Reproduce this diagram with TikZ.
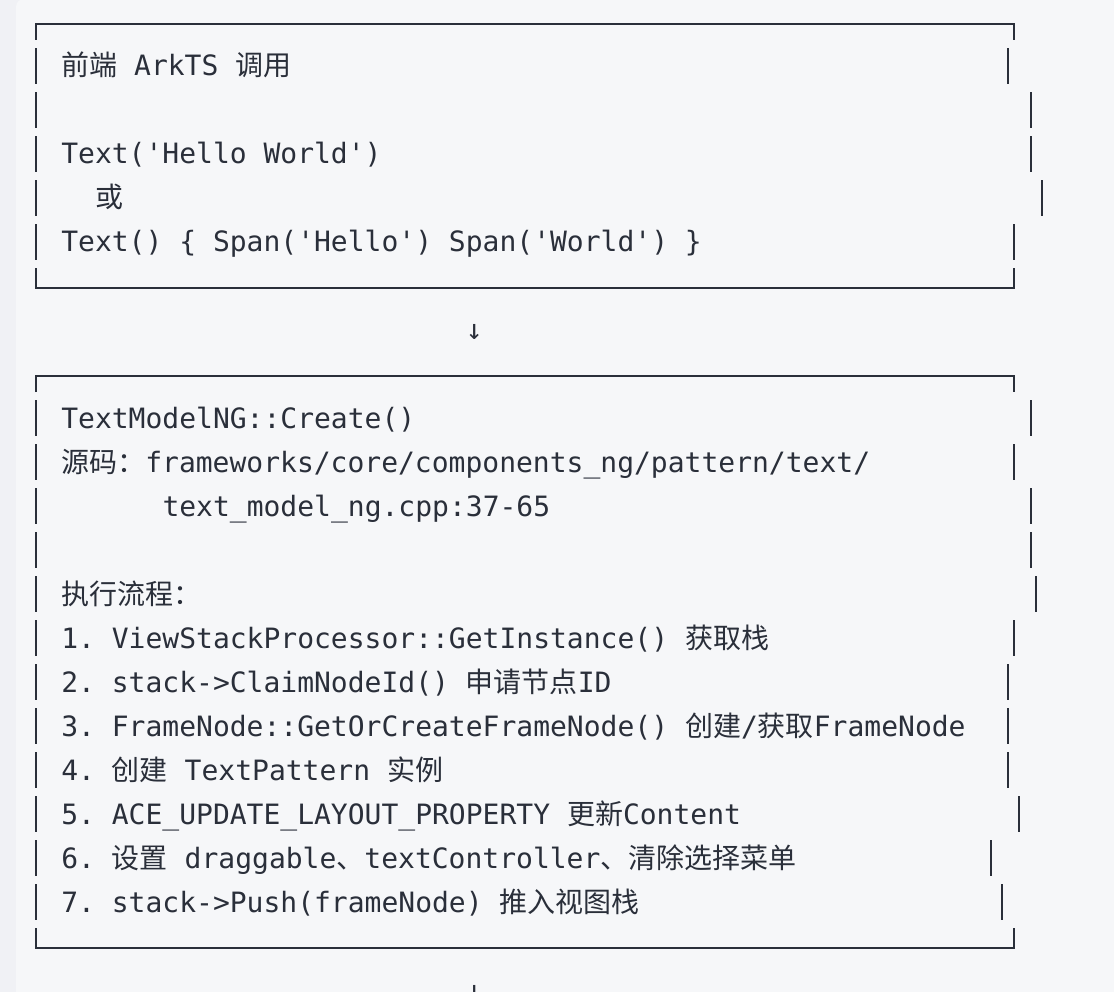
\documentclass[tikz,border=0pt]{standalone}
\usepackage{fontspec}
\newfontfamily\mono{DejaVu Sans Mono}
\newfontfamily\cjk{Noto Sans CJK SC}
\frenchspacing
\definecolor{ink}{RGB}{42,47,58}
\definecolor{outerbg}{RGB}{240,241,245}
\definecolor{panelbg}{RGB}{246,247,249}
\tikzset{
  frameline/.style={draw=ink, line width=2pt, line cap=butt, line join=miter},
  txt/.style={anchor=base west, inner sep=0pt, outer sep=0pt, text=ink, font=\fontsize{28}{34}\mono\frenchspacing},
  arrowtxt/.style={anchor=base, inner sep=0pt, outer sep=0pt, text=ink, font=\fontsize{28}{34}\mono}
}
\begin{document}
\begin{tikzpicture}[x=1pt,y=-1pt]
\useasboundingbox (0,0) rectangle (1114,992);
\clip (0,0) rectangle (1114,992);
\fill[outerbg] (0,0) rectangle (1114,992);
\fill[panelbg, rounded corners=8pt] (16,-1) rectangle (1140,1010);

% ---------- box 1 ----------
\draw[frameline] (36,40) -- (36,24) -- (1014,24) -- (1014,40);
\draw[frameline] (36,268.3) -- (36,288) -- (1014,288) -- (1014,268.3);
\foreach \k/\rx in {1/1008, 2/1030.7, 3/1030.7, 4/1042, 5/1014} {
  \draw[frameline] (36,{48.3+44*(\k-1)}) -- (36,{84.3+44*(\k-1)});
  \draw[frameline] (\rx,{48.3+44*(\k-1)}) -- (\rx,{84.3+44*(\k-1)});
}
\node[txt] (a1) at (61.3,76) {{\cjk 前端} ArkTS {\cjk 调用}};
\node[txt] (a3) at (61.3,164) {Text('Hello World')};
\node[txt] (a4) at (95.0,208) {{\cjk 或}};
\node[txt] (a5) at (61.3,252) {Text() \{ Span('Hello') Span('World') \}};

% arrow
\node[arrowtxt] (arr1) at (474.4,340) {↓};

% ---------- box 2 ----------
\draw[frameline] (36,392) -- (36,376) -- (1014,376) -- (1014,392);
\draw[frameline] (36,928.3) -- (36,948) -- (1014,948) -- (1014,928.3);
\foreach \k/\rx in {1/1030.7, 2/1013.7, 3/1030.7, 4/1030.7, 5/1036.3, 6/1013.7, 7/1008.3, 8/1008.3, 9/1008.3, 10/1019.3, 11/990.7, 12/1002.3} {
  \draw[frameline] (36,{400.3+44*(\k-1)}) -- (36,{436.3+44*(\k-1)});
  \draw[frameline] (\rx,{400.3+44*(\k-1)}) -- (\rx,{436.3+44*(\k-1)});
}
\node[txt] (b1) at (61.3,428) {TextModelNG::Create()};
\node[txt] (b2) at (61.3,472) {{\cjk 源码：}frameworks/core/components\_ng/pattern/text/};
\node[txt] (b3) at (162.5,516) {text\_model\_ng.cpp:37-65};
\node[txt] (b5) at (61.3,604) {{\cjk 执行流程：}};
\node[txt] (b6) at (61.3,648) {1. ViewStackProcessor::GetInstance() {\cjk 获取栈}};
\node[txt] (b7) at (61.3,692) {2. stack->ClaimNodeId() {\cjk 申请节点}ID};
\node[txt] (b8) at (61.3,736) {3. FrameNode::GetOrCreateFrameNode() {\cjk 创建}/{\cjk 获取}FrameNode};
\node[txt] (b9) at (61.3,780) {4. {\cjk 创建} TextPattern {\cjk 实例}};
\node[txt] (b10) at (61.3,824) {5. ACE\_UPDATE\_LAYOUT\_PROPERTY {\cjk 更新}Content};
\node[txt] (b11) at (61.3,868) {6. {\cjk 设置} draggable{\cjk 、}textController{\cjk 、清除选择菜单}};
\node[txt] (b12) at (61.3,912) {7. stack->Push(frameNode) {\cjk 推入视图栈}};

% arrow (cut off at the bottom, as in the reference)
\node[arrowtxt] (arr2) at (474.4,1000) {↓};
\end{tikzpicture}
\end{document}
